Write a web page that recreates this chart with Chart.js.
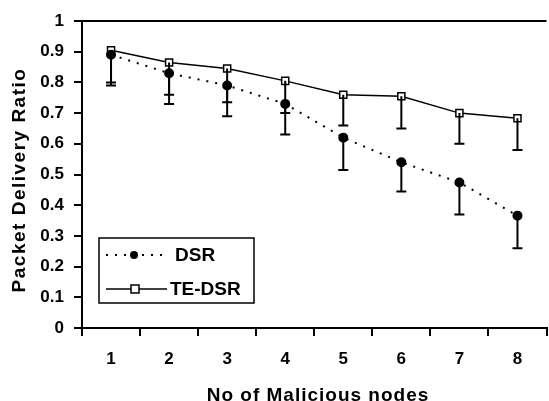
<!DOCTYPE html>
<html>
<head>
<meta charset="utf-8">
<script src="https://cdn.jsdelivr.net/npm/chart.js@4/dist/chart.umd.min.js"></script>
<style>
  html, body { margin: 0; padding: 0; background: #fff; overflow: hidden; }
  #wrap { width: 549px; height: 401px; overflow: hidden; }
</style>
</head>
<body>
<div id="wrap"><canvas id="chart" width="553" height="401"></canvas></div>
<script>
// ── Data ─────────────────────────────────────
const nodes     = ['1', '2', '3', '4', '5', '6', '7', '8'];
const dsr       = [0.89, 0.83, 0.79, 0.73, 0.62, 0.54, 0.474, 0.366];
const dsrLow    = [0.79, 0.73, 0.69, 0.63, 0.515, 0.445, 0.37, 0.26];
const teDsr     = [0.905, 0.865, 0.845, 0.805, 0.76, 0.755, 0.70, 0.683];
const teDsrLow  = [0.80, 0.76, 0.735, 0.70, 0.66, 0.65, 0.60, 0.58];
const yTicks    = [0, 0.1, 0.2, 0.3, 0.4, 0.5, 0.6, 0.7, 0.8, 0.9, 1];
const xTitle    = 'No of Malicious nodes';
const yTitle    = 'Packet Delivery Ratio';

const FONT = '"Liberation Sans", Arial, sans-serif';

// ── Error bars (downward only) ────────────────
const errorBars = {
  id: 'errorBars',
  afterDatasetsDraw(chart) {
    const { ctx, scales: { x, y } } = chart;
    const lows = [dsrLow, teDsrLow];
    ctx.save();
    ctx.strokeStyle = '#000';
    ctx.lineWidth = 2;
    chart.data.datasets.forEach((ds, di) => {
      ds.data.forEach((v, i) => {
        const px = x.getPixelForValue(i);
        const top = y.getPixelForValue(v);
        const bot = y.getPixelForValue(lows[di][i]);
        ctx.beginPath();
        ctx.moveTo(px, top);
        ctx.lineTo(px, bot);
        ctx.moveTo(px - 5, bot);
        ctx.lineTo(px + 5, bot);
        ctx.stroke();
      });
    });
    ctx.restore();
  },
};

// ── Frame, axis titles, legend box ────────────
const frameLegend = {
  id: 'frameLegend',
  afterDraw(chart) {
    const { ctx, chartArea: a } = chart;
    ctx.save();
    ctx.strokeStyle = '#000';
    ctx.lineWidth = 2;
    ctx.beginPath();
    ctx.moveTo(a.left, a.top);
    ctx.lineTo(a.right, a.top);
    ctx.stroke();

    // axis titles (stretched a bit like the original)
    ctx.fillStyle = '#000';
    ctx.font = 'bold 19px ' + FONT;
    ctx.textAlign = 'center';
    ctx.textBaseline = 'alphabetic';
    ctx.letterSpacing = '1px';
    ctx.fillText(xTitle, 318, 401);
    ctx.save();
    ctx.translate(25, 180);
    ctx.rotate(-Math.PI / 2);
    ctx.letterSpacing = '1.5px';
    ctx.fillText(yTitle, 0, 0);
    ctx.restore();
    ctx.letterSpacing = '0px';

    // legend
    const bx = 99, by = 238, bw = 155, bh = 65;
    ctx.fillStyle = '#fff';
    ctx.fillRect(bx, by, bw, bh);
    ctx.lineWidth = 1.5;
    ctx.strokeRect(bx, by, bw, bh);

    ctx.font = 'bold 19px ' + FONT;
    ctx.textAlign = 'left';
    ctx.textBaseline = 'middle';
    chart.data.datasets.forEach((ds, i) => {
      const ly = by + 17 + i * 34;
      ctx.strokeStyle = '#000';
      ctx.lineWidth = ds.borderWidth;
      ctx.setLineDash(ds.borderDash || []);
      ctx.beginPath();
      ctx.moveTo(106, ly);
      ctx.lineTo(i === 0 ? 163 : 167, ly);
      ctx.stroke();
      ctx.setLineDash([]);
      ctx.lineWidth = 1.5;
      if (ds.pointStyle === 'rect') {
        ctx.fillStyle = '#fff';
        ctx.fillRect(131, ly - 4, 8, 8);
        ctx.strokeRect(131, ly - 4, 8, 8);
      } else {
        ctx.fillStyle = '#000';
        ctx.beginPath();
        ctx.arc(134, ly, 4, 0, Math.PI * 2);
        ctx.fill();
      }
      ctx.fillStyle = '#000';
      ctx.fillText(ds.label, i === 0 ? 175 : 170, ly + 1);
    });
    ctx.restore();
  },
};

new Chart(document.getElementById('chart'), {
  type: 'line',
  data: {
    labels: nodes,
    datasets: [
      {
        label: 'DSR',
        data: dsr,
        borderColor: '#000',
        borderWidth: 2,
        borderDash: [2, 7],
        pointStyle: 'circle',
        pointRadius: 4,
        pointBackgroundColor: '#000',
        pointBorderColor: '#000',
        tension: 0,
      },
      {
        label: 'TE-DSR',
        data: teDsr,
        borderColor: '#000',
        borderWidth: 1.5,
        pointStyle: 'rect',
        pointRadius: 5,
        pointBackgroundColor: '#fff',
        pointBorderColor: '#000',
        pointBorderWidth: 1.5,
        tension: 0,
      },
    ],
  },
  options: {
    responsive: false,
    animation: false,
    layout: { padding: { top: 21, right: 1, left: 0, bottom: 0 } },
    plugins: { legend: { display: false }, tooltip: { enabled: false } },
    scales: {
      x: {
        offset: true,
        grid: { offset: true, drawOnChartArea: false, drawTicks: true, tickLength: 8, color: '#000', lineWidth: 2 },
        border: { color: '#000', width: 2 },
        ticks: { color: '#000', font: { family: FONT, size: 17, weight: 'bold' }, padding: 13, maxRotation: 0 },
        afterFit: s => { s.height = 73; },
      },
      y: {
        min: 0,
        max: 1,
        afterBuildTicks: s => { s.ticks = yTicks.map(v => ({ value: v })); },
        grid: { drawOnChartArea: false, drawTicks: true, tickLength: 8, color: '#000', lineWidth: 2 },
        border: { color: '#000', width: 2 },
        ticks: {
          color: '#000',
          font: { family: FONT, size: 17, weight: 'bold' },
          padding: 10,
          callback: v => String(v),
        },
        afterFit: s => { s.width = 82; },
      },
    },
  },
  plugins: [errorBars, frameLegend],
});
</script>
</body>
</html>
